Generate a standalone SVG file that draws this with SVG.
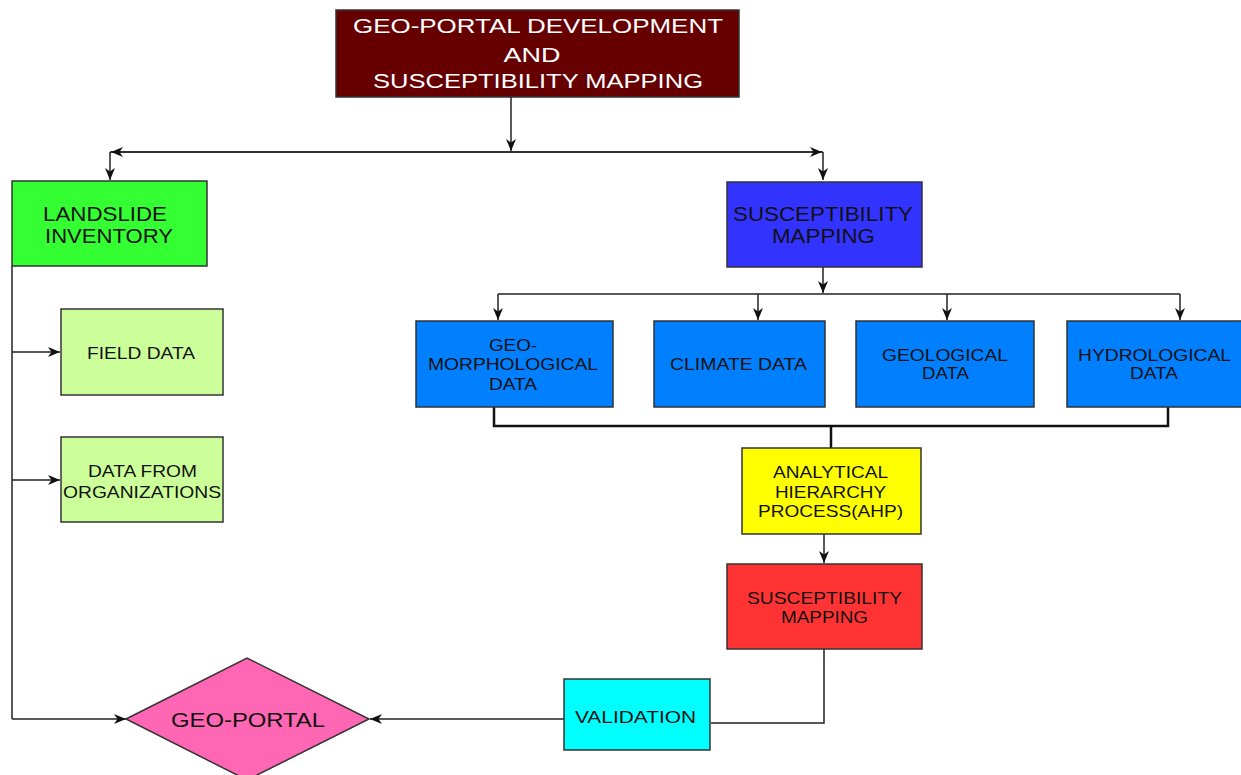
<svg xmlns="http://www.w3.org/2000/svg" width="1241" height="775" viewBox="0 0 1241 775">
<style>
.box{stroke:#333;stroke-width:1.5}
.t{font-family:"Liberation Sans",Arial,sans-serif;fill:#111;text-anchor:middle}
.big{font-size:21px}
.mid{font-size:20px}
.sm{font-size:17px}
.w{fill:#fff}
.ln{fill:none;stroke:#222;stroke-width:1.5}
.thick{fill:none;stroke:#111;stroke-width:2.5}
.arr{marker-end:url(#ah)}
</style>
<defs>
<marker id="ah" markerUnits="userSpaceOnUse" markerWidth="13" markerHeight="11" refX="12" refY="5" orient="auto">
<path d="M0,0 L12,5 L0,10 L3.5,5 Z" fill="#111"/>
</marker>
</defs>
<rect width="1241" height="775" fill="#fff"/>
<g id="connectors">
<path class="ln arr" d="M511,97 V151"/>
<path class="ln" d="M110,152 H823"/>
<path class="ln arr" d="M511,152 H111"/>
<path class="ln arr" d="M511,152 H822"/>
<path class="ln arr" d="M110,152 V180"/>
<path class="ln arr" d="M823,152 V180"/>
<path class="ln" d="M12,266 V719"/>
<path class="ln arr" d="M12,352 H60"/>
<path class="ln arr" d="M12,480 H60"/>
<path class="ln arr" d="M12,719 H126"/>
<path class="ln arr" d="M823,267 V293"/>
<path class="ln" d="M498,294 H1180"/>
<path class="ln arr" d="M498,294 V320"/>
<path class="ln arr" d="M758,294 V320"/>
<path class="ln arr" d="M947,294 V320"/>
<path class="ln arr" d="M1180,294 V320"/>
<path class="thick" d="M494,407 V426 H1168 V407"/>
<path class="thick" d="M831,426 V448"/>
<path class="ln arr" d="M824,534 V563"/>
<path class="ln" d="M824,649 V723 H711"/>
<path class="ln arr" d="M564,719 H370"/>
</g>
<g id="title">
<rect class="box" x="336" y="10" width="403" height="87" fill="#660000"/>
<text class="t big w" x="538" y="33" textLength="370" lengthAdjust="spacingAndGlyphs">GEO-PORTAL DEVELOPMENT</text>
<text class="t big w" x="532" y="62" textLength="57" lengthAdjust="spacingAndGlyphs">AND</text>
<text class="t big w" x="538" y="88" textLength="330" lengthAdjust="spacingAndGlyphs">SUSCEPTIBILITY MAPPING</text>
</g>
<g id="landslide">
<rect class="box" x="12" y="181" width="195" height="85" fill="#33FF33"/>
<text class="t mid" x="105" y="221" textLength="124" lengthAdjust="spacingAndGlyphs">LANDSLIDE</text>
<text class="t mid" x="109" y="243" textLength="128" lengthAdjust="spacingAndGlyphs">INVENTORY</text>
</g>
<g id="suscept-top">
<rect class="box" x="727" y="182" width="195" height="85" fill="#3333FF"/>
<text class="t big" x="823" y="221" textLength="180" lengthAdjust="spacingAndGlyphs">SUSCEPTIBILITY</text>
<text class="t big" x="823.5" y="243" textLength="103" lengthAdjust="spacingAndGlyphs">MAPPING</text>
</g>
<g id="field">
<rect class="box" x="61" y="309" width="162" height="86" fill="#CCFF99"/>
<text class="t sm" x="141" y="359" textLength="108" lengthAdjust="spacingAndGlyphs">FIELD DATA</text>
</g>
<g id="orgs">
<rect class="box" x="61" y="437" width="162" height="85" fill="#CCFF99"/>
<text class="t sm" x="142.5" y="477" textLength="109" lengthAdjust="spacingAndGlyphs">DATA FROM</text>
<text class="t sm" x="142" y="498" textLength="158" lengthAdjust="spacingAndGlyphs">ORGANIZATIONS</text>
</g>
<g id="geomorph">
<rect class="box" x="416" y="321" width="197" height="86" fill="#007FFF"/>
<text class="t sm" x="513" y="351" textLength="48" lengthAdjust="spacingAndGlyphs">GEO-</text>
<text class="t sm" x="513" y="370" textLength="170" lengthAdjust="spacingAndGlyphs">MORPHOLOGICAL</text>
<text class="t sm" x="513" y="390" textLength="48" lengthAdjust="spacingAndGlyphs">DATA</text>
</g>
<g id="climate">
<rect class="box" x="654" y="321" width="171" height="86" fill="#007FFF"/>
<text class="t sm" x="738.5" y="370" textLength="137" lengthAdjust="spacingAndGlyphs">CLIMATE DATA</text>
</g>
<g id="geological">
<rect class="box" x="856" y="321" width="178" height="86" fill="#007FFF"/>
<text class="t sm" x="945" y="361" textLength="126" lengthAdjust="spacingAndGlyphs">GEOLOGICAL</text>
<text class="t sm" x="945.5" y="379" textLength="47" lengthAdjust="spacingAndGlyphs">DATA</text>
</g>
<g id="hydrological">
<rect class="box" x="1067" y="321" width="180" height="86" fill="#007FFF"/>
<text class="t sm" x="1154.5" y="361" textLength="153" lengthAdjust="spacingAndGlyphs">HYDROLOGICAL</text>
<text class="t sm" x="1154" y="379" textLength="48" lengthAdjust="spacingAndGlyphs">DATA</text>
</g>
<g id="ahp">
<rect class="box" x="742" y="448" width="179" height="86" fill="#FFFF00"/>
<text class="t sm" x="830.5" y="478" textLength="115" lengthAdjust="spacingAndGlyphs">ANALYTICAL</text>
<text class="t sm" x="830.5" y="498" textLength="111" lengthAdjust="spacingAndGlyphs">HIERARCHY</text>
<text class="t sm" x="830.5" y="517" textLength="145" lengthAdjust="spacingAndGlyphs">PROCESS(AHP)</text>
</g>
<g id="suscept-result">
<rect class="box" x="727" y="564" width="195" height="85" fill="#FF3333"/>
<text class="t sm" x="824.5" y="604" textLength="155" lengthAdjust="spacingAndGlyphs">SUSCEPTIBILITY</text>
<text class="t sm" x="824.5" y="623" textLength="87" lengthAdjust="spacingAndGlyphs">MAPPING</text>
</g>
<g id="validation">
<rect class="box" x="564" y="679" width="146" height="71" fill="#00FFFF"/>
<text class="t sm" x="635.5" y="723" textLength="121" lengthAdjust="spacingAndGlyphs">VALIDATION</text>
</g>
<g id="geoportal">
<polygon class="box" points="126,719 247,658 369,719 247,780" fill="#FF66B3"/>
<text class="t big" x="248" y="727" textLength="154" lengthAdjust="spacingAndGlyphs">GEO-PORTAL</text>
</g>
</svg>
